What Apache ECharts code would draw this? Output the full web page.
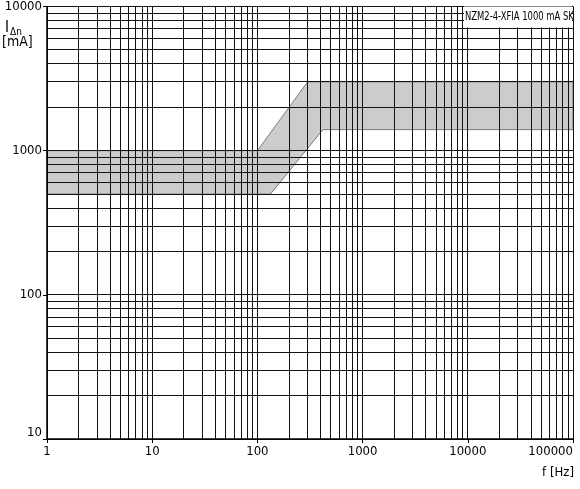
<!DOCTYPE html>
<html>
<head>
<meta charset="utf-8">
<script src="https://cdn.jsdelivr.net/npm/echarts@6/dist/echarts.min.js"></script>
<style>
  html, body { margin: 0; padding: 0; background: #fff; }
  #chart { width: 580px; height: 489px; }
</style>
</head>
<body>
<div id="chart"></div>
<script>
// axis decades (f in Hz, I in mA)
var freqDecades = [1, 10, 100, 1000, 10000, 100000];
var currentDecades = [10, 100, 1000, 10000];
var gridSteps = [1, 2, 3, 4, 5, 6, 7, 8, 9];

// tripping band: upper and lower edge
var upperFreq = [1, 100, 300, 100000];
var upperCurrent = [1000, 1000, 3000, 3000];
var lowerFreq = [1, 133, 420, 100000];
var lowerCurrent = [500, 500, 1400, 1400];

var FONT = "'DejaVu Sans Condensed', 'Liberation Sans Narrow', sans-serif";

// grid line values: 1..9 in each decade, plus the last one
function gridValues(decades) {
  var out = [];
  for (var i = 0; i < decades.length - 1; i++) {
    for (var j = 0; j < gridSteps.length; j++) out.push(gridSteps[j] * decades[i]);
  }
  out.push(decades[decades.length - 1]);
  return out;
}
var xGrid = gridValues(freqDecades);
var yGrid = gridValues(currentDecades);

var xMin = freqDecades[0], xMax = freqDecades[freqDecades.length - 1];
var yMin = currentDecades[0], yMax = currentDecades[currentDecades.length - 1];

// polygon: upper edge left->right, lower edge right->left
var bandPts = [];
for (var i = 0; i < upperFreq.length; i++) bandPts.push([upperFreq[i], upperCurrent[i]]);
for (var i = lowerFreq.length - 1; i >= 0; i--) bandPts.push([lowerFreq[i], lowerCurrent[i]]);

var lineCol = '#111';
// snap to pixel centre so the 1px grid stays crisp
function snap(v) { return Math.round(v - 0.5) + 0.5; }

var myChart = echarts.init(document.getElementById('chart'));
myChart.setOption({
  animation: false,
  grid: { left: 47, right: 7, top: 6, bottom: 50 },
  xAxis: {
    type: 'log', logBase: 10, min: xMin, max: xMax, z: 10,
    axisLine: { lineStyle: { color: '#000', width: 1.5 } },
    axisTick: { length: 4, lineStyle: { color: '#000' } },
    splitLine: { show: false },
    axisLabel: {
      color: '#000', fontSize: 13, fontFamily: FONT, margin: 6,
      alignMaxLabel: 'right',
      formatter: function (v) { return String(Math.round(v)); }
    }
  },
  yAxis: {
    type: 'log', logBase: 10, min: yMin, max: yMax, z: 10,
    axisLine: { lineStyle: { color: '#000', width: 1.5 } },
    axisTick: { length: 4, lineStyle: { color: '#000' } },
    splitLine: { show: false },
    axisLabel: {
      color: '#000', fontSize: 13, fontFamily: FONT, margin: 5,
      verticalAlignMinLabel: 'bottom',
      formatter: function (v) { return String(Math.round(v)); }
    }
  },
  series: [
    {
      // gray tripping band
      type: 'custom', z: 1, silent: true,
      data: [[xMin, yMin]],
      renderItem: function (params, api) {
        var pts = bandPts.map(function (p) { return api.coord(p); });
        return {
          type: 'polygon',
          shape: { points: pts },
          style: { fill: '#cccccc', stroke: '#7a7a7a', lineWidth: 1 }
        };
      }
    },
    {
      // vertical grid lines
      type: 'custom', z: 3, silent: true,
      data: xGrid.map(function (v) { return [v, yMin]; }),
      renderItem: function (params, api) {
        var a = api.coord([api.value(0), yMin]);
        var b = api.coord([api.value(0), yMax]);
        var x = snap(a[0]);
        return {
          type: 'line',
          shape: { x1: x, y1: a[1], x2: x, y2: b[1] },
          style: { stroke: lineCol, lineWidth: 1 }
        };
      }
    },
    {
      // horizontal grid lines
      type: 'custom', z: 3, silent: true,
      data: yGrid.map(function (v) { return [xMin, v]; }),
      renderItem: function (params, api) {
        var a = api.coord([xMin, api.value(1)]);
        var b = api.coord([xMax, api.value(1)]);
        var y = snap(a[1]);
        return {
          type: 'line',
          shape: { x1: a[0], y1: y, x2: b[0], y2: y },
          style: { stroke: lineCol, lineWidth: 1 }
        };
      }
    }
  ],
  graphic: [
    { type: 'rect', z: 100, shape: { x: 464, y: 6.5, width: 108, height: 21 }, style: { fill: '#fff' } },
    // condensed caption, like the narrow font of the original
    { type: 'text', z: 101, x: 465, y: 17, scaleX: 0.78, style: { text: 'NZM2-4-XFIA 1000 mA SK', fontSize: 12, fontFamily: FONT, fill: '#000', verticalAlign: 'middle' } },
    { type: 'text', z: 101, x: 5, y: 21, style: { text: 'I', fontSize: 15, fontFamily: FONT, fill: '#000' } },
    { type: 'text', z: 101, x: 10, y: 27, style: { text: 'Δn', fontSize: 10, fontFamily: FONT, fill: '#000' } },
    { type: 'text', z: 101, x: 2, y: 35, style: { text: '[mA]', fontSize: 14, fontFamily: FONT, fill: '#000' } },
    { type: 'text', z: 101, x: 574, y: 466, style: { text: 'f [Hz]', fontSize: 13, fontFamily: FONT, fill: '#000', align: 'right' } }
  ]
});
</script>
</body>
</html>
